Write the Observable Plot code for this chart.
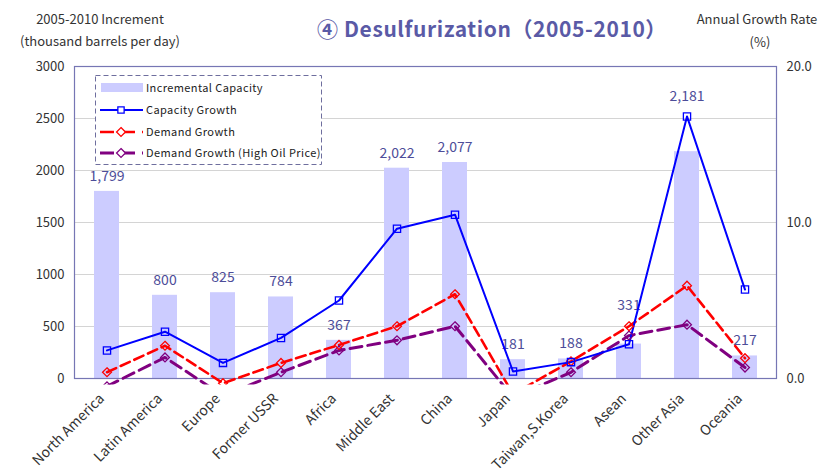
<!DOCTYPE html>
<html><head><meta charset="utf-8">
<script src="https://cdn.jsdelivr.net/npm/d3@7"></script>
<script src="https://cdn.jsdelivr.net/npm/@observablehq/plot@0.6"></script>
<style>
body{margin:0;background:#fff;}
#wrap{position:relative;width:823px;height:468px;font-family:"Noto Sans CJK JP","Noto Sans",sans-serif;overflow:hidden;}
.t{position:absolute;white-space:nowrap;color:#333;transform:translate(-50%,-50%);}
#legend{position:absolute;left:0;top:0;pointer-events:none;}
</style></head><body>
<div id="wrap"></div>
<script>
// ---- data ----
const regions = ["North America","Latin America","Europe","Former USSR","Africa","Middle East","China","Japan","Taiwan,S.Korea","Asean","Other Asia","Oceania"];
const incrementalCapacity = [1799, 800, 825, 784, 367, 2022, 2077, 181, 188, 331, 2181, 217];
const capacityGrowth = [1.8, 3.0, 1.0, 2.6, 5.0, 9.6, 10.5, 0.45, 1.05, 2.2, 16.8, 5.7];
const demandGrowth = [0.4, 2.1, -0.3, 1.0, 2.15, 3.35, 5.4, -1.0, 1.1, 3.35, 5.95, 1.3];
const demandGrowthHighOil = [-0.5, 1.35, -1.1, 0.4, 1.8, 2.45, 3.35, -1.2, 0.4, 2.75, 3.45, 0.7];
const leftTicks = [0, 500, 1000, 1500, 2000, 2500, 3000];
const rightTicks = [0, 10, 20];
const leftMax = 3000, rightMax = 20;
const seriesNames = ["Incremental Capacity","Capacity Growth","Demand Growth","Demand Growth (High Oil Price)"];

const k = leftMax / rightMax;
const rows = regions.map((r, i) => ({
  region: r, cap: incrementalCapacity[i],
  cg: capacityGrowth[i], dg: demandGrowth[i], dh: demandGrowthHighOil[i]
}));
const fmt = d3.format(",");
const labelColor = "#4d4d99";
const normal = d => d.region !== "Asean" && d.region !== "Other Asia";

const chart = Plot.plot({
  width: 823, height: 468,
  marginLeft: 74, marginRight: 47, marginTop: 66, marginBottom: 90,
  style: {fontFamily: '"Noto Sans CJK JP","Noto Sans",sans-serif', background: "white"},
  x: {domain: regions, paddingInner: 0.57, paddingOuter: 0.285, axis: null},
  y: {domain: [0, leftMax]},
  marks: [
    Plot.ruleY(leftTicks.filter(t => t > 0 && t < leftMax), {stroke: "#d4d4d4", strokeWidth: 1.2}),
    Plot.barY(rows, {x: "region", y: "cap", fill: "#ccccff"}),
    Plot.frame({stroke: "#7676b4", strokeWidth: 1.2}),
    Plot.axisY({anchor: "left", ticks: leftTicks, tickFormat: d => String(d), tickSize: 0, tickPadding: 10, fontSize: 13, color: "#333", label: null}),
    Plot.axisY({anchor: "right", ticks: rightTicks.map(t => t * k), tickFormat: d => (d / k).toFixed(1), tickSize: 0, tickPadding: 10, fontSize: 13, color: "#333", label: null}),
    Plot.text(regions, {x: d => d, frameAnchor: "bottom", rotate: -45, textAnchor: "end", dx: -2, dy: 21, fontSize: 14, fill: "#333"}),
    Plot.text(rows, {filter: normal, x: "region", y: "cap", text: d => fmt(d.cap), dy: -15, fill: labelColor, fontSize: 14}),
    Plot.text(rows, {filter: d => d.region === "Asean", x: "region", y: "cap", text: d => fmt(d.cap), dy: -39, fill: labelColor, fontSize: 14}),
    Plot.text(rows, {filter: d => d.region === "Other Asia", x: "region", y: "cap", text: d => fmt(d.cap), dy: -55, fill: labelColor, fontSize: 14}),
    Plot.line(rows, {x: "region", y: d => d.dh * k, stroke: "#800080", strokeWidth: 3, strokeDasharray: "12,6"}),
    Plot.line(rows, {x: "region", y: d => d.dg * k, stroke: "#ff0000", strokeWidth: 2.6, strokeDasharray: "10,5"}),
    Plot.line(rows, {x: "region", y: d => d.cg * k, stroke: "#0000ff", strokeWidth: 2}),
    Plot.dot(rows, {x: "region", y: d => d.dh * k, symbol: "diamond2", r: 4, stroke: "#800080", strokeWidth: 1.3, fill: "none"}),
    Plot.dot(rows, {x: "region", y: d => d.dg * k, symbol: "diamond2", r: 4, stroke: "#ff0000", strokeWidth: 1.3, fill: "none"}),
    Plot.dot(rows, {x: "region", y: d => d.cg * k, symbol: "square2", r: 4.6, stroke: "#0000ff", strokeWidth: 1.3, fill: "none"})
  ]
});

const wrap = document.getElementById("wrap");
wrap.appendChild(chart);

// clip lines/markers slightly below the axis like the source chart
const svg = d3.select(chart);
svg.append("defs").append("clipPath").attr("id", "plotclip")
  .append("rect").attr("x", 74).attr("y", 50).attr("width", 702).attr("height", 334);
svg.selectAll('g[aria-label="line"], g[aria-label="dot"]').attr("clip-path", "url(#plotclip)");

// titles
function addText(txt, x, y, style) {
  const d = document.createElement("div");
  d.className = "t"; d.textContent = txt;
  d.style.left = x + "px"; d.style.top = y + "px";
  Object.assign(d.style, style || {});
  wrap.appendChild(d);
}
addText("2005-2010 Increment", 100, 18, {fontSize: "13px"});
addText("(thousand barrels per day)", 100, 40, {fontSize: "13px"});
addText("Annual Growth Rate", 757, 18, {fontSize: "13px"});
addText("(%)", 760, 41, {fontSize: "13px"});
addText("④ Desulfurization（2005-2010）", 492, 28, {fontSize: "21px", fontWeight: "bold", color: "#5a5aa6", letterSpacing: "0.6px"});

// legend
const lg = d3.select(wrap).append("svg").attr("id", "legend").attr("width", 823).attr("height", 468);
lg.append("rect").attr("x", 95.5).attr("y", 75.5).attr("width", 226).attr("height", 89)
  .attr("fill", "white").attr("stroke", "#6e6e9e").attr("stroke-dasharray", "5,3");
const rowsY = [88, 110, 132, 153];
const items = [
  {type: "bar"},
  {type: "line", color: "#0000ff", sym: d3.symbolSquare2, dash: null, w: 2},
  {type: "line", color: "#ff0000", sym: d3.symbolDiamond2, dash: "10,5", w: 2.6},
  {type: "line", color: "#800080", sym: d3.symbolDiamond2, dash: "12,6", w: 3}
];
items.forEach((it, i) => {
  const y = rowsY[i];
  if (it.type === "bar") {
    lg.append("rect").attr("x", 101).attr("y", y - 5).attr("width", 42).attr("height", 9).attr("fill", "#ccccff");
  } else {
    lg.append("line").attr("x1", 100).attr("x2", 143).attr("y1", y).attr("y2", y)
      .attr("stroke", it.color).attr("stroke-width", it.w).attr("stroke-dasharray", it.dash ? "14,7" : null);
    lg.append("path").attr("d", d3.symbol(it.sym, Math.PI * 16)()).attr("transform", `translate(121,${y})`)
      .attr("fill", "white").attr("stroke", it.color).attr("stroke-width", 1.3);
  }
  lg.append("text").attr("x", 146).attr("y", y).attr("dy", "0.35em").attr("font-size", 11)
    .attr("letter-spacing", "0.4px").attr("fill", "#222").text(seriesNames[i]);
});
</script>
</body></html>
